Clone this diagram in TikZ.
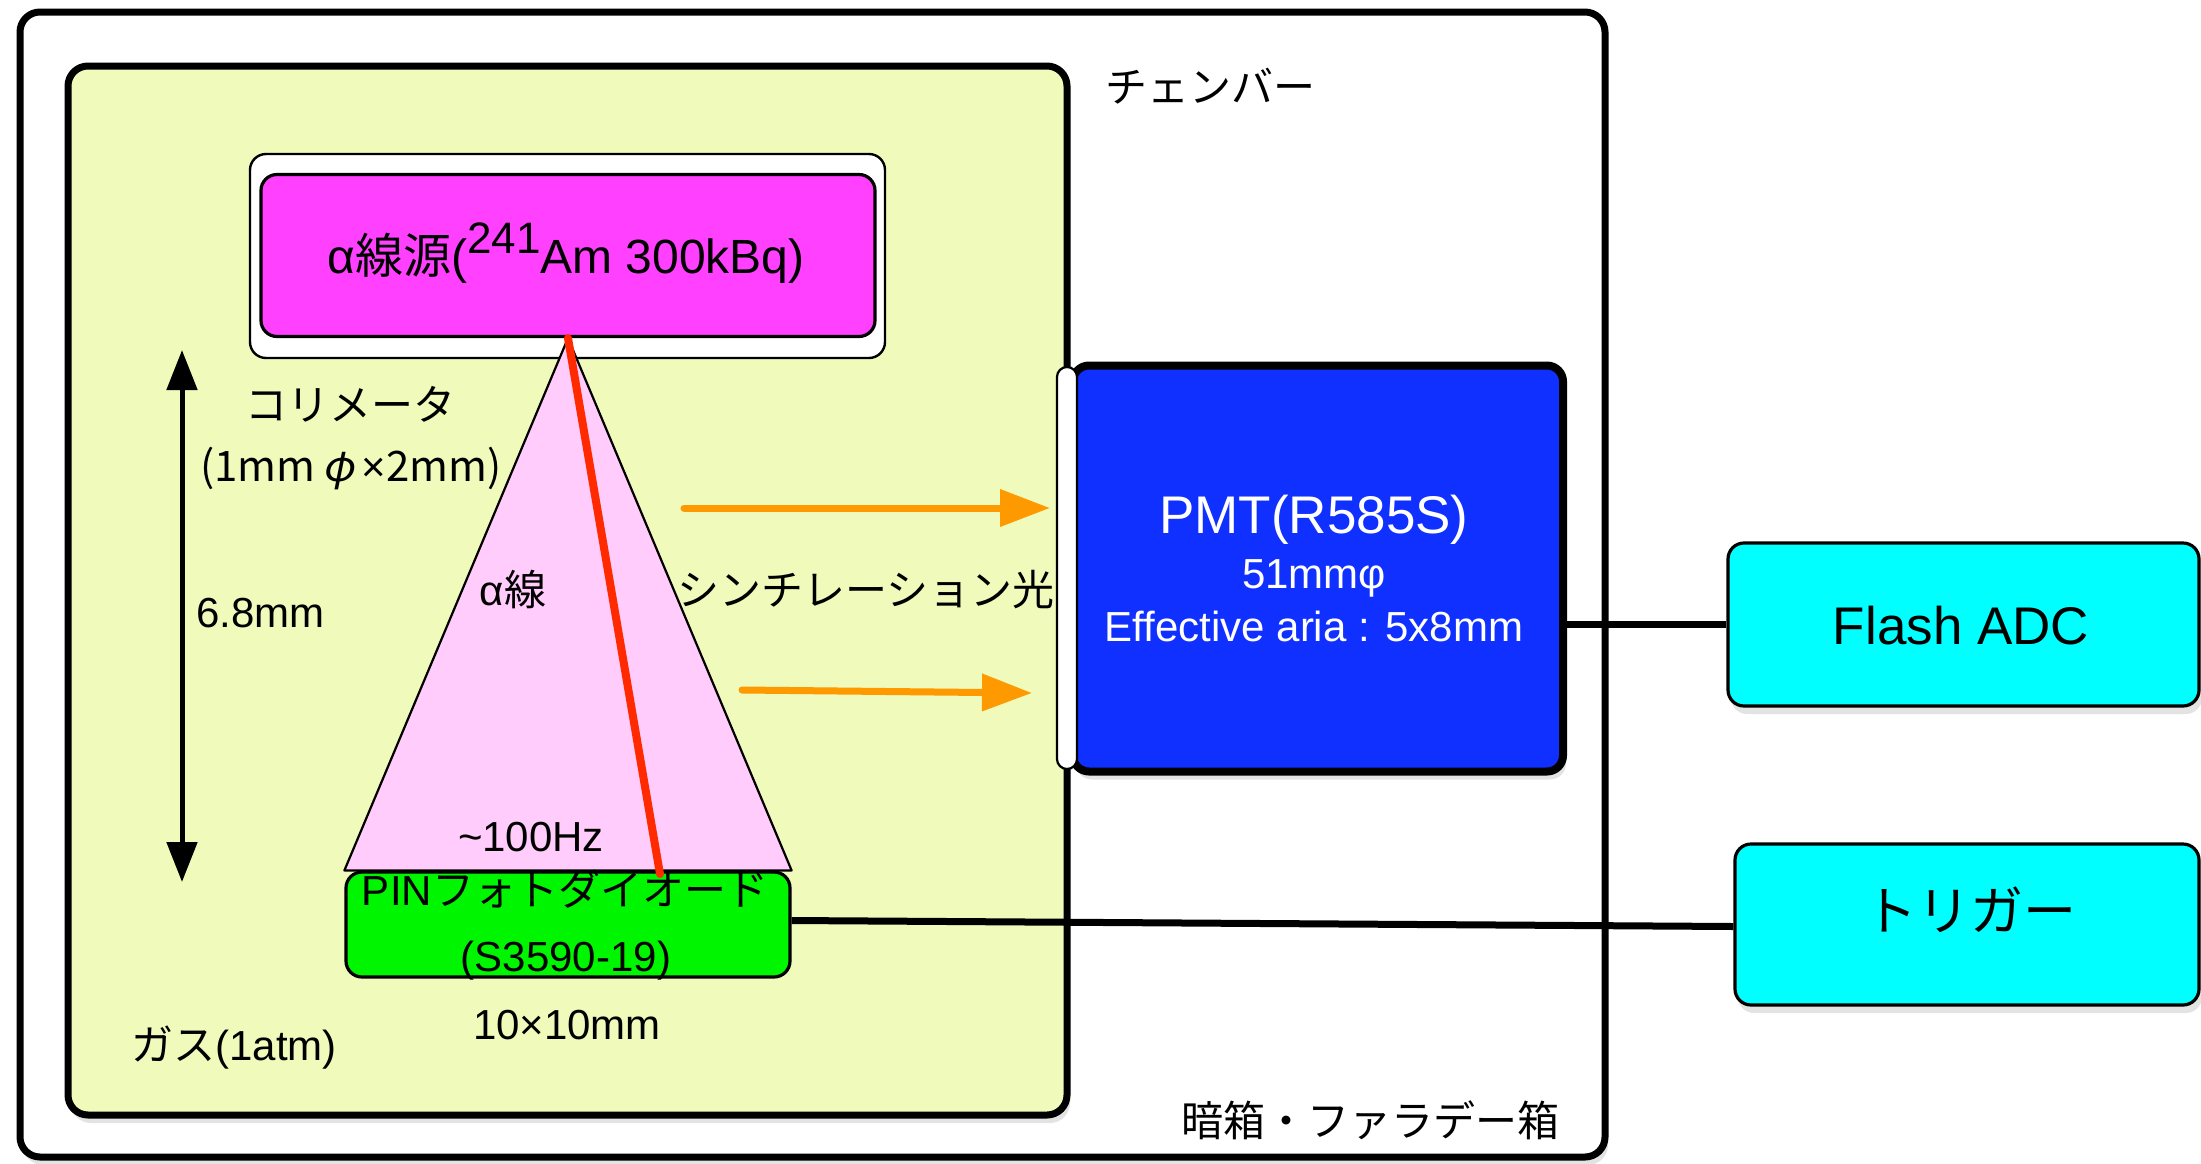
\documentclass[tikz,border=0pt]{standalone}
\usepackage{fontspec}
\setmainfont{Liberation Sans}
\newfontfamily\cjk{Noto Sans CJK JP}
\newfontfamily\cjkslant[FakeSlant=0.2]{Noto Sans CJK JP}
\usetikzlibrary{arrows.meta,shadows}
\definecolor{gasyellow}{HTML}{F0FABB}
\definecolor{srcmag}{HTML}{FF40FF}
\definecolor{conepink}{HTML}{FFCCFC}
\definecolor{pingreen}{HTML}{00F500}
\definecolor{pmtblue}{HTML}{1030FF}
\definecolor{boxcyan}{HTML}{00FFFF}
\definecolor{lightorange}{HTML}{FF9900}
\definecolor{tracered}{HTML}{FF2A00}
\newcommand\fsmain{\fontsize{21pt}{25pt}\selectfont}
\newcommand\fsbig{\fontsize{26.5pt}{31pt}\selectfont}
\begin{document}
\begin{tikzpicture}[x=0.5pt,y=-0.5pt,
  shade/.style={drop shadow={opacity=0.22,shadow xshift=1.5pt,shadow yshift=-4pt}},
  frame/.style={draw=black, line width=3.5pt, rounded corners=10pt, inner sep=0pt},
  thinbox/.style={draw=black, line width=1.2pt, rounded corners=8pt, inner sep=0pt},
  txt/.style={inner sep=0pt, font=\fsmain, align=center},
  wire/.style={draw=black, line width=3.5pt},
  lightarrow/.style={draw=lightorange, line width=3.5pt, line cap=round,
    -{Triangle[length=25pt,width=18pt]}},
  dimarrow/.style={draw=black, line width=2.5pt,
    {Triangle[length=20pt,width=15pt]}-{Triangle[length=20pt,width=15pt]}}]
\useasboundingbox (0,0) rectangle (2201,1163);

% outer dark box / Faraday cage
\node[frame, fill=white, shade, minimum width=792.5pt, minimum height=572.5pt] (dark) at (812.5,584.5) {};
% gas chamber
\node[frame, fill=gasyellow, shade, minimum width=499.5pt, minimum height=524.5pt] (gas) at (567.5,590.5) {};
% collimator and source
\node[thinbox, fill=white, minimum width=317.5pt, minimum height=102pt] (colli) at (567.5,256) {};
\node[thinbox, line width=1.6pt, fill=srcmag, minimum width=307pt, minimum height=81pt] (src) at (568,255.5) {};
% PIN photodiode
\node[thinbox, line width=1.6pt, fill=pingreen, minimum width=222pt, minimum height=52.5pt] (pin) at (568,924.5) {};
% alpha cone
\draw[line width=1.1pt, fill=conepink, line join=round] (src.south) -- (pin.north east) -- (pin.north west) -- cycle;
% alpha track
\coordinate (hit) at (660,874);
\draw[tracered, line width=4pt, line cap=round] (src.south) -- (hit);

% PMT
\node[frame, line width=4pt, rounded corners=8pt, fill=pmtblue, shade, minimum width=245pt, minimum height=203pt] (pmt) at (1318,568.5) {};
\node[draw=black, line width=1.1pt, fill=white, rounded corners=5pt, inner sep=0pt, minimum width=10pt, minimum height=201pt] (win) at (1067,568) {};

% scintillation light arrows
\coordinate (l1a) at (684,508);
\coordinate (l1b) at (1050,508);
\coordinate (l2a) at (742,690);
\coordinate (l2b) at (1032,693);
\draw[lightarrow] (l1a) -- (l1b);
\draw[lightarrow] (l2a) -- (l2b);

% distance arrow
\coordinate (dtop) at (182,350);
\coordinate (dbot) at (182,882);
\draw[dimarrow] (dtop) -- (dbot);

% readout boxes
\node[thinbox, line width=1.6pt, fill=boxcyan, shade, minimum width=235.5pt, minimum height=81.5pt] (adc) at (1963.5,624.5) {};
\node[thinbox, line width=1.6pt, fill=boxcyan, shade, minimum width=232pt, minimum height=80.5pt] (trig) at (1967,924.5) {};

% cables
\draw[wire] (adc.west -| pmt.east) -- (adc.west);
\draw[wire] ([yshift=2pt]pin.east) -- ([yshift=-1pt]trig.west);

% texts
\node[txt, font=\fontsize{24pt}{28pt}\selectfont] (srctext) at (566,253)
  {α{\cjk 線源}(\raisebox{10pt}{\fontsize{22pt}{24pt}\selectfont 241}Am 300kBq)};
\node[txt] (collitext) at (350,404) {\cjk コリメータ};
\node[txt] (collisize) at (351,469) {{\cjk (1mm}\,{\cjkslant φ}\,×{\cjk 2mm)}};
\node[txt, anchor=west] (dist) at (196,613) {6.8mm};
\node[txt] (alpha) at (513,590) {α{\cjk 線}};
\node[txt] (scint) at (866,590) {\cjk シンチレーション光};
\node[txt] (rate) at (531,837) {\textasciitilde100Hz};
\node[txt, font=\fontsize{21pt}{25pt}\selectfont] (pinname) at (565,889) {PIN{\cjk フォトダイオード}};
\node[txt] (pinmodel) at (566,961) {(S3590-19)};
\node[txt] (pinsize) at (567,1025) {10×10mm};
\node[txt] (gastext) at (234,1048) {{\cjk ガス}(1atm)};
\node[txt] (chamber) at (1210,86) {\cjk チェンバー};
\node[txt] (cage) at (1370,1120) {\cjk 暗箱・ファラデー箱};
\node[txt, font=\fsbig, text=white] (pmtname) at (1314,520) {PMT(R585S)};
\node[txt, text=white] (pmtdia) at (1314,578) {51mmφ};
\node[txt, text=white] (pmtarea) at (1314,626) {Effective aria : 5x8mm};
\node[txt, font=\fsbig] (adctext) at (1961,626) {Flash ADC};
\node[txt, font=\fsbig] (trigtext) at (1970,910) {\cjk トリガー};
\end{tikzpicture}
\end{document}
